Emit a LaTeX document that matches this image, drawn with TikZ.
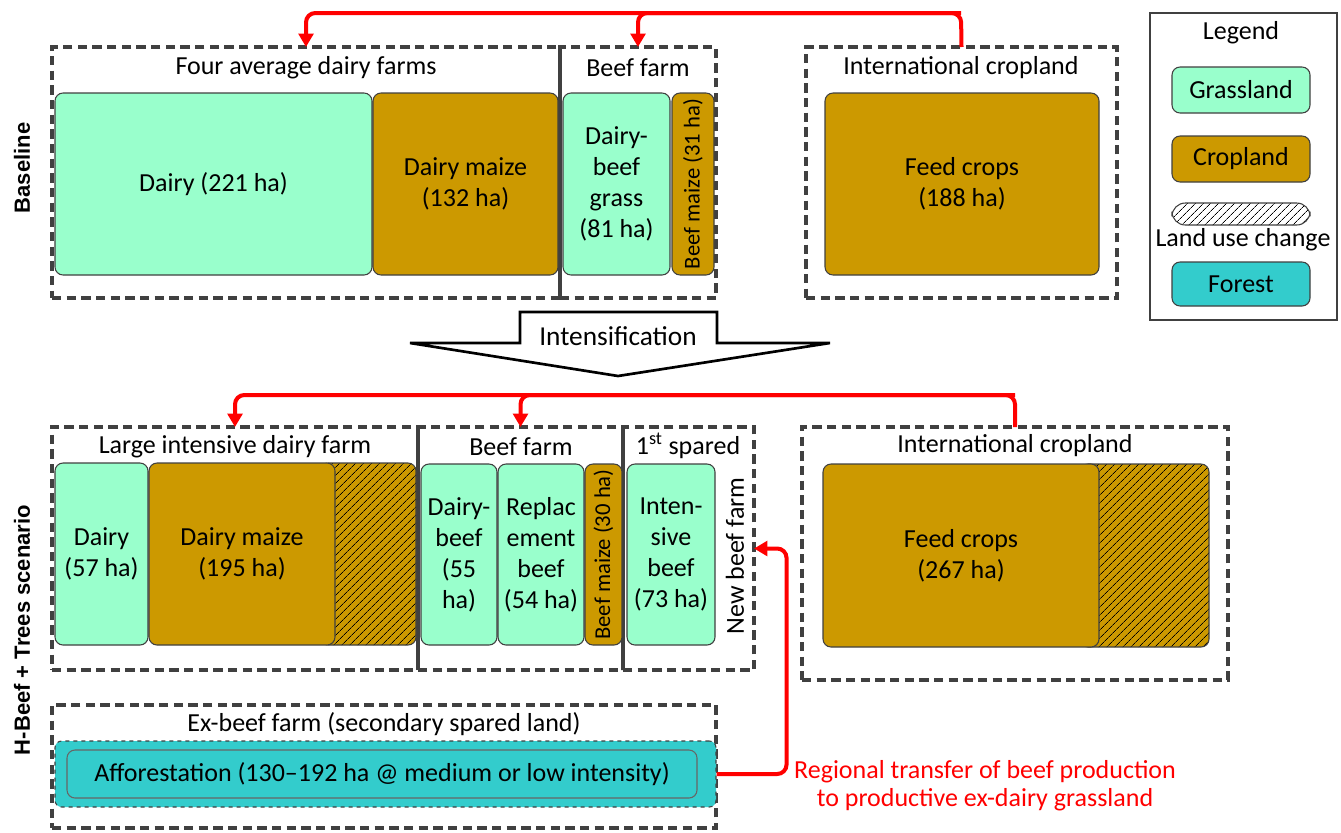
\documentclass[tikz,border=0pt]{standalone}
\usepackage{fontspec}
\setmainfont{Carlito}
\newfontfamily\sidefont{Liberation Sans}
\usetikzlibrary{fit,patterns.meta,arrows.meta}

\definecolor{grass}{HTML}{99FFCC}
\definecolor{crop}{HTML}{CC9900}
\definecolor{forest}{HTML}{33CCCC}
\definecolor{frame}{HTML}{404040}

\newcommand\areafont{\fontsize{19.5}{23.3}\selectfont}
\newcommand\narrowfont{\fontsize{17}{20}\selectfont}

\tikzset{
  area/.style={draw=frame, line width=0.8pt, rounded corners=6pt, inner sep=0pt},
  grassarea/.style={area, fill=grass},
  croparea/.style={area, fill=crop},
  lucarea/.style={area, preaction={fill=crop}, pattern={Lines[angle=45,distance=4pt,line width=0.6pt]}},
  areatext/.style={align=center, font=\areafont, inner sep=0pt},
  farm/.style={draw=frame, line width=3pt, dash pattern=on 7pt off 4pt, inner sep=0pt, outer sep=0pt},
  divider/.style={draw=frame, line width=3pt},
  farmtitle/.style={font=\areafont},
  sidelabel/.style={rotate=90, font=\sidefont\fontsize{16.5}{20}\selectfont\bfseries},
  flow/.style={->, draw=red, line width=3pt, rounded corners=7pt},
  note/.style={text=red, align=center, font=\fontsize{19.5}{21}\selectfont}
}

\begin{document}
\begin{tikzpicture}[x=0.75pt,y=-0.75pt,>={Triangle[width=11pt,length=10pt]}]
\useasboundingbox (0,0) rectangle (1341,832);

% baseline
\node[sidelabel] (baseline) at (22,168) {Baseline};
\node[farm, fit={(52,47)(560,298)}] (dairyfarms) {};
\node[farm, fit={(560,47)(716,298)}] (beeffarm) {};
\node[farm, fit={(806,47)(1117,298)}] (intcrop) {};
\node[farmtitle] (dairyfarmstitle) at (306,68) {Four average dairy farms};
\node[farmtitle] (beeffarmtitle) at (638,68) {Beef farm};
\node[farmtitle] (intcroptitle) at (961,68) {International cropland};
\node[grassarea, fit={(55,93)(372,275)}] (dairy) {};
\node[areatext] at (dairy) {Dairy (221 ha)};
\node[croparea, fit={(373,93)(558,275)}] (dairymaize) {};
\node[areatext] at (dairymaize) {Dairy maize\\(132 ha)};
\node[grassarea, fit={(563,93)(670,275)}] (dairybeef) {};
\node[areatext] at (dairybeef) {Dairy-\\beef\\grass\\(81 ha)};
\node[croparea, fit={(672,93)(714,275)}] (beefmaize) {};
\node[rotate=90, font=\narrowfont] (beefmaizetext) at (beefmaize) {Beef maize (31 ha)};
\node[croparea, fit={(825,93)(1099,275)}] (feedcrops) {};
\node[areatext] at (feedcrops) {Feed crops\\(188 ha)};

% legend
\node[draw=frame, line width=1.5pt, fill=white, fit={(1150,13)(1337,320)}, inner sep=0pt] (legend) {};
\node[farmtitle] (legendtitle) at (1241,33) {Legend};
\node[grassarea, fit={(1172,67)(1310,113)}] (lgrass) {};
\node[areatext] at (lgrass) {Grassland};
\node[croparea, fit={(1172,136)(1310,182)}] (lcrop) {};
\node[areatext] at (lcrop) {Cropland};
\node[area, rounded corners=10pt, preaction={fill=white}, pattern={Lines[angle=45,distance=4pt,line width=0.6pt]}, fit={(1172,203)(1310,225)}] (lluc) {};
\node[farmtitle] (lluctext) at (1243,240) {Land use change};
\node[area, fill=forest, fit={(1172,262)(1310,306)}] (lforest) {};
\node[areatext] at (lforest) {Forest};

% intensification
\draw[line width=2pt] (520,312) -- (717,312) -- (717,343) -- (830,343) -- (618,376) -- (410,343) -- (520,343) -- cycle;
\node[font=\fontsize{20.5}{24}\selectfont] (intens) at (618,336) {Intensification};

% scenario
\node[sidelabel] (scenario) at (22,630) {H-Beef + Trees scenario};
\node[farm, fit={(52,427)(418,670)}] (largedairy) {};
\node[farm, fit={(418,427)(623,670)}] (beeffarmB) {};
\node[farm, fit={(623,427)(754,670)}] (spared) {};
\node[farm, fit={(802,427)(1228,680)}] (intcropB) {};
\draw[divider] (largedairy.north east) -- (largedairy.south east);
\draw[divider] (beeffarmB.north east) -- (beeffarmB.south east);
\node[farmtitle] (largedairytitle) at (235,447) {Large intensive dairy farm};
\node[farmtitle] (beeffarmBtitle) at (521,447) {Beef farm};
\node[farmtitle] (sparedtitle) at (688,446) {1\textsuperscript{st} spared};
\node[farmtitle] (intcropBtitle) at (1015,446) {International cropland};
\node[grassarea, fit={(55,463)(148,645)}] (dairyB) {};
\node[areatext] at (dairyB) {Dairy\\(57 ha)};
\node[lucarea, fit={(320,463)(416,645)}] (dairyluc) {};
\node[croparea, fit={(149,463)(335,645)}] (dairymaizeB) {};
\node[areatext] at (dairymaizeB) {Dairy maize\\(195 ha)};
\node[grassarea, fit={(421,464)(497,645)}] (dairybeefB) {};
\node[areatext] at (dairybeefB) {Dairy-\\beef\\(55\\ha)};
\node[grassarea, fit={(498,464)(584,645)}] (replbeef) {};
\node[areatext] at (replbeef) {Replac\\ement\\beef\\(54 ha)};
\node[croparea, fit={(585,464)(622,645)}] (beefmaizeB) {};
\node[rotate=90, font=\narrowfont] (beefmaizeBtext) at (beefmaizeB) {Beef maize (30 ha)};
\node[grassarea, fit={(627,464)(715,645)}] (intbeef) {};
\node[areatext] at (intbeef) {Inten-\\sive\\beef\\(73 ha)};
\node[rotate=90, font=\areafont] (newbeef) at (735,556) {New beef farm};
\node[lucarea, fit={(1080,464)(1209,647)}] (cropluc) {};
\node[croparea, fit={(823,464)(1099,647)}] (feedcropsB) {};
\node[areatext] at (feedcropsB) {Feed crops\\(267 ha)};

% ex-beef farm
\node[farm, fit={(52,705)(716,828)}] (exbeef) {};
\node[farmtitle] (exbeeftitle) at (384,724) {Ex-beef farm (secondary spared land)};
\node[area, fill=forest, dashed, rounded corners=5pt, fit={(55,741)(716,807)}] (forestarea) {};
\node[area, fill=forest, draw=frame!80, fit={(67,750)(697,798)}] (afforest) {};
\node[areatext] at (afforest) {Afforestation (130--192 ha @ medium or low intensity)};

% red connectors
\coordinate (topbus) at (961,13);
\coordinate (lowbus) at (1015,395);
\draw[flow] (intcrop.north) -- (topbus) -| (dairyfarms.north);
\draw[flow] (topbus) -| (beeffarm.north);
\draw[flow] (intcropB.north) -- (lowbus) -| (largedairy.north);
\draw[flow] (lowbus) -| (beeffarmB.north);
\draw[flow] (forestarea.east) -- ++(70,0) |- (spared.east);
\node[note] (transfernote) at (985,786) {Regional transfer of beef production\\to productive ex-dairy grassland};
\end{tikzpicture}
\end{document}
